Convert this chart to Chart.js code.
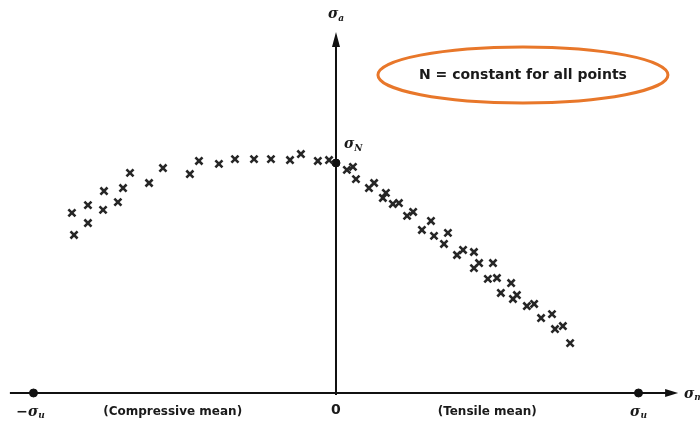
<!DOCTYPE html>
<html>
<head>
<meta charset="utf-8">
<script src="https://cdn.jsdelivr.net/npm/chart.js@4"></script>
<style>
  html, body { margin: 0; padding: 0; background: #fff; }
  #wrap { width: 700px; height: 426px; position: relative; }
</style>
</head>
<body>
<div id="wrap"><canvas id="haigh"></canvas></div>
<script>
// mean stress / ultimate strength (sigma_m / sigma_u), left of zero = compressive
const compressiveX = [-0.873, -0.866, -0.820, -0.820, -0.770, -0.767, -0.721, -0.704, -0.681, -0.618,
                      -0.572, -0.483, -0.453, -0.387, -0.334, -0.271, -0.215, -0.152, -0.116, -0.060, -0.023];
// alternating stress / endurance strength (sigma_a / sigma_N)
const compressiveY = [0.783, 0.687, 0.817, 0.739, 0.796, 0.878, 0.830, 0.891, 0.957, 0.913,
                      0.978, 0.952, 1.009, 0.996, 1.017, 1.017, 1.017, 1.013, 1.039, 1.009, 1.013];

const tensileX = [0.036, 0.056, 0.066, 0.109, 0.126, 0.155, 0.165, 0.188, 0.208, 0.235,
                  0.255, 0.284, 0.314, 0.324, 0.357, 0.370, 0.400, 0.420, 0.456, 0.456,
                  0.473, 0.519, 0.502, 0.532, 0.579, 0.545, 0.585, 0.598, 0.631, 0.655,
                  0.678, 0.714, 0.724, 0.750, 0.774];
const tensileY = [0.970, 0.983, 0.930, 0.891, 0.913, 0.848, 0.870, 0.822, 0.826, 0.770,
                  0.787, 0.709, 0.748, 0.683, 0.648, 0.696, 0.600, 0.622, 0.613, 0.543,
                  0.565, 0.565, 0.496, 0.500, 0.478, 0.435, 0.409, 0.426, 0.378, 0.387,
                  0.326, 0.343, 0.278, 0.291, 0.217];

// sigma_N on the vertical axis, -sigma_u and sigma_u on the horizontal axis
const enduranceX = [0];
const enduranceY = [1];
const ultimateX = [-1, 1];

const noteText = "N = constant for all points";
const regionLabels = ["(Compressive mean)", "(Tensile mean)"];

function toPoints(xs, ys) {
    return xs.map((x, i) => ({ x, y: ys[i] }));
}

// axes, arrows, labels and the orange note are drawn on top of the scales
const haighAxes = {
    id: "haighAxes",
    beforeDatasetsDraw(chart) {
        const { ctx, scales: { x, y } } = chart;
        const x0 = x.getPixelForValue(0);
        const y0 = y.getPixelForValue(0);
        const left = x.getPixelForValue(-1.078);
        const right = x.getPixelForValue(1.131);
        const top = y.getPixelForValue(1.57);

        ctx.save();
        ctx.strokeStyle = "#111";
        ctx.fillStyle = "#111";
        ctx.lineWidth = 2;

        ctx.beginPath();
        ctx.moveTo(left, y0);
        ctx.lineTo(right - 8, y0);
        ctx.moveTo(x0, y0 + 2);
        ctx.lineTo(x0, top + 8);
        ctx.stroke();

        // arrow heads
        ctx.beginPath();
        ctx.moveTo(right, y0);
        ctx.lineTo(right - 13, y0 - 4);
        ctx.lineTo(right - 13, y0 + 4);
        ctx.closePath();
        ctx.fill();
        ctx.beginPath();
        ctx.moveTo(x0, top);
        ctx.lineTo(x0 - 4, top + 15);
        ctx.lineTo(x0 + 4, top + 15);
        ctx.closePath();
        ctx.fill();
        ctx.restore();
    },
    afterDatasetsDraw(chart) {
        const { ctx, scales: { x, y } } = chart;
        const x0 = x.getPixelForValue(0);
        const y0 = y.getPixelForValue(0);

        ctx.save();
        ctx.fillStyle = "#1a1a1a";
        ctx.textBaseline = "middle";

        const greek = (txt, sub, px, py, align) => {
            ctx.font = "italic bold 14px 'DejaVu Serif'";
            const w1 = ctx.measureText(txt).width;
            ctx.font = "italic bold 9px 'DejaVu Serif'";
            const w2 = ctx.measureText(sub).width;
            let sx = px;
            if (align === "center") sx = px - (w1 + w2) / 2;
            ctx.textAlign = "left";
            ctx.font = "italic bold 14px 'DejaVu Serif'";
            ctx.fillText(txt, sx, py);
            ctx.font = "italic bold 9px 'DejaVu Serif'";
            ctx.fillText(sub, sx + w1, py + 4);
        };

        greek("σ", "a", x0, y.getPixelForValue(1.645), "center");
        greek("σ", "m", x.getPixelForValue(1.15), y0 + 1, "left");
        greek("σ", "N", x0 + 8, y.getPixelForValue(1.08), "left");
        greek("−σ", "u", x.getPixelForValue(-1.01), y0 + 19, "center");
        greek("σ", "u", x.getPixelForValue(1), y0 + 19, "center");

        ctx.font = "bold 14px 'DejaVu Sans'";
        ctx.textAlign = "center";
        ctx.fillText("0", x0, y0 + 17);
        ctx.font = "bold 12px 'DejaVu Sans'";
        ctx.fillText(regionLabels[0], x.getPixelForValue(-0.54), y0 + 19);
        ctx.fillText(regionLabels[1], x.getPixelForValue(0.5), y0 + 19);

        // orange note
        const cx = x.getPixelForValue(0.618);
        const cy = y.getPixelForValue(1.383);
        ctx.strokeStyle = "#E8772A";
        ctx.lineWidth = 3;
        ctx.beginPath();
        ctx.ellipse(cx, cy, 145, 28, 0, 0, Math.PI * 2);
        ctx.stroke();
        ctx.font = "bold 14px 'DejaVu Sans'";
        ctx.fillStyle = "#1a1a1a";
        ctx.fillText(noteText, cx, cy);
        ctx.restore();
    }
};

new Chart(document.getElementById("haigh"), {
    type: "scatter",
    data: {
        datasets: [
            {
                label: "Compressive mean",
                data: toPoints(compressiveX, compressiveY),
                pointStyle: "crossRot",
                radius: 5,
                borderWidth: 2.6,
                borderColor: "#262626"
            },
            {
                label: "Tensile mean",
                data: toPoints(tensileX, tensileY),
                pointStyle: "crossRot",
                radius: 5,
                borderWidth: 2.6,
                borderColor: "#262626"
            },
            {
                label: "σN",
                data: toPoints(enduranceX, enduranceY),
                pointStyle: "circle",
                radius: 4,
                backgroundColor: "#111",
                borderColor: "#111"
            },
            {
                label: "σu",
                data: toPoints(ultimateX, [0, 0]),
                pointStyle: "circle",
                radius: 4,
                backgroundColor: "#111",
                borderColor: "#111"
            }
        ]
    },
    options: {
        responsive: true,
        maintainAspectRatio: false,
        animation: false,
        layout: { padding: 0, autoPadding: false },
        plugins: {
            legend: { display: false },
            tooltip: { enabled: false }
        },
        scales: {
            x: { type: "linear", min: -1.1107, max: 1.2033, display: false },
            y: { type: "linear", min: -0.1435, max: 1.7087, display: false }
        }
    },
    plugins: [haighAxes]
});
</script>
</body>
</html>
